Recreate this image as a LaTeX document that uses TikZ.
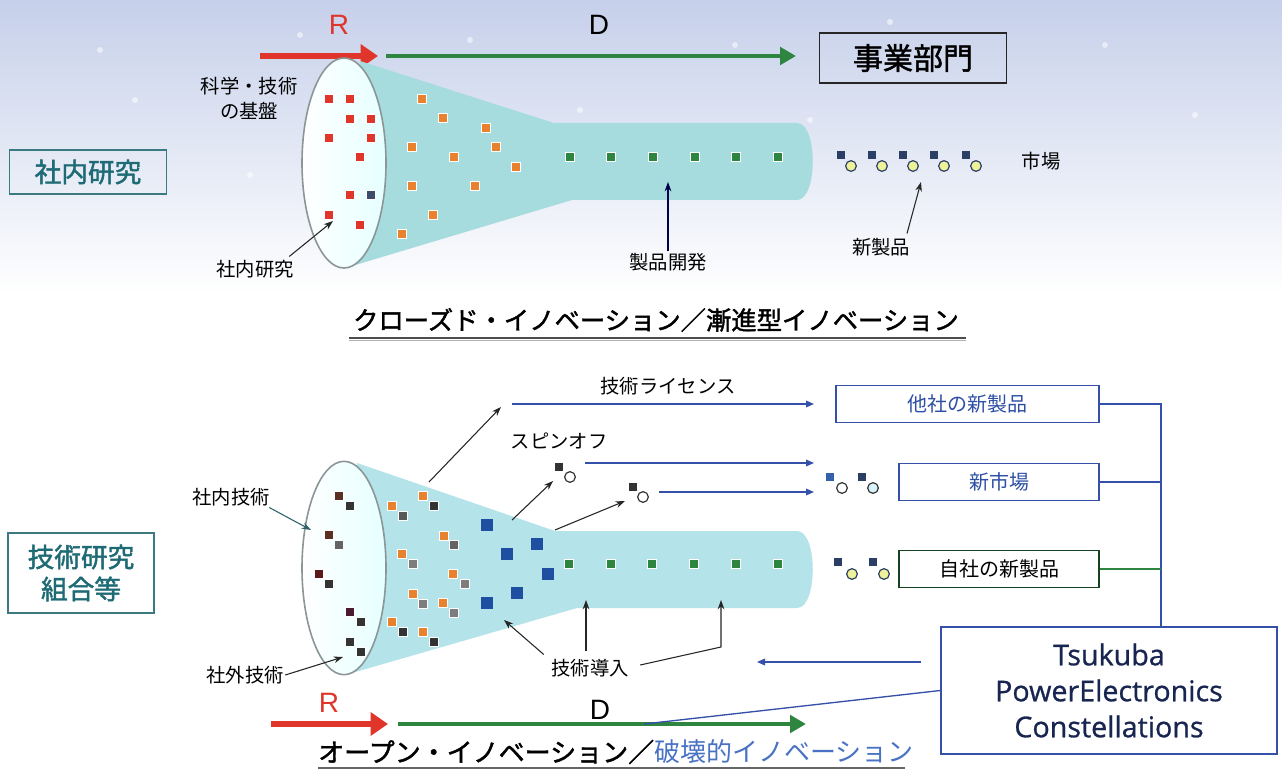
\documentclass[tikz,border=0pt]{standalone}
\usepackage{fontspec}
\setmainfont{Noto Sans CJK JP}
\newfontfamily\jpsemi[FakeBold=1.6]{Noto Sans CJK JP}
\newfontfamily\tskfont[FakeBold=0.8]{Open Sans}
\newfontfamily\rdfont{Liberation Sans}
\usetikzlibrary{arrows.meta,shapes.geometric,calc}
\definecolor{skytop}{HTML}{C6D0EA}
\definecolor{tealtxt}{HTML}{1E6B75}
\definecolor{tealbd}{HTML}{3A7A80}
\definecolor{conec}{HTML}{A6DCDE}
\definecolor{conec2}{HTML}{B4E3E9}
\definecolor{ellbd}{HTML}{8C9696}
\definecolor{redc}{HTML}{E0352B}
\definecolor{greenc}{HTML}{2E8540}
\definecolor{orangec}{HTML}{E8822E}
\definecolor{navyc}{HTML}{2B3F66}
\definecolor{yellowc}{HTML}{EEF39A}
\definecolor{bluec}{HTML}{3550A8}
\definecolor{bluetxt}{HTML}{2D4FA5}
\definecolor{bluetitle}{HTML}{4A72C4}
\definecolor{blueq}{HTML}{1F4FA0}
\definecolor{tsknavy}{HTML}{172550}
\definecolor{grayq}{HTML}{7D7D7D}
\definecolor{darkq}{HTML}{333333}
\definecolor{brownq}{HTML}{5A3020}
\definecolor{dredq}{HTML}{5A1A1A}
\definecolor{purpq}{HTML}{4A1A30}
\begin{document}
\begin{tikzpicture}[x=0.75pt,y=-0.75pt,
  lbl/.style={font=\fontsize{14.5}{18.75}\selectfont, inner sep=1pt, align=center},
  sq/.style={rectangle, inner sep=0pt, minimum size=6.6pt, draw=white, line width=0.4pt},
  bigsq/.style={rectangle, inner sep=0pt, minimum size=8.8pt},
  msq/.style={rectangle, inner sep=0pt, minimum size=5.6pt, fill=navyc},
  mci/.style={circle, inner sep=0pt, minimum size=8pt, draw=navyc, line width=0.9pt},
  arr/.style={-{Stealth[length=7pt,width=5pt]}, line width=0.8pt, draw=black!85},
  barr/.style={-{Triangle[length=6pt,width=5pt]}, line width=0.9pt, draw=bluec},
  redarr/.style={-{Triangle[length=13pt,width=17pt]}, line width=4.5pt, draw=redc},
  grnarr/.style={-{Triangle[length=12pt,width=13pt]}, line width=3.6pt, draw=greenc},
  lbox/.style={draw=tealbd, line width=1.3pt, text=tealtxt, font=\jpsemi\fontsize{20}{24}\selectfont, align=center},
  rbox/.style={draw=bluec, line width=1.2pt, text=bluetxt, font=\fontsize{15}{18}\selectfont, minimum height=28pt},
  ttl/.style={font=\jpsemi\fontsize{19}{22}\selectfont, inner sep=0pt},
  rd/.style={font=\rdfont\fontsize{21}{24}\selectfont, inner sep=0pt}
]
\useasboundingbox (0,0) rectangle (1282,770);
% ---------- background
\fill[white] (0,0) rectangle (1282,770);
\shade[top color=skytop, bottom color=white] (0,0) rectangle (1282,295);
\foreach \p in {(100,50),(135,100),(300,35),(470,40),(735,45),(890,22),(1105,45),(1195,115),(810,120),(250,175),(980,330),(580,110)}
  \fill[white, opacity=0.55] \p circle (3);

% ================= TOP SECTION =================
\node[rd, text=redc] (R1) at (339,25) {R};
\node[rd, text=black] (D1) at (599,25) {D};
\coordinate (ra1) at (260,56); \coordinate (rb1) at (378,56);
\draw[redarr] (ra1) -- (rb1);
\coordinate (ga1) at (386,56); \coordinate (gb1) at (796,56);
\draw[grnarr] (ga1) -- (gb1);
\node[draw=black!85, line width=1.2pt, minimum width=140pt, minimum height=37.5pt,
  font=\jpsemi\fontsize{22.5}{26}\selectfont] (jigyo) at (913,58) {事業部門};

\node[lbox, minimum width=117.75pt, minimum height=33pt] (shanai) at (88,172) {社内研究};

% cone
\fill[conec] (360,61) -- (554,123) -- (797,123) .. controls (818,123) and (818,200) .. (797,200)
  -- (572,200) -- (352,266) -- cycle;
\node[ellipse, draw=ellbd, line width=1.2pt, left color=white, right color=cyan!10,
  minimum width=63pt, minimum height=157.5pt] (ell1) at (344,163) {};

\foreach \x/\y in {329/99,350/99,350/119,371/119,329/138,371/138,360/157,350/195,329/215,360/225}
  \node[sq, fill=redc] at (\x,\y) {};
\node[sq, fill=navyc!80!gray] at (371,195) {};
\foreach \x/\y in {422/99,443/118,486/128,412/147,454/157,496/147,516/167,412/186,475/186,433/215,402/234}
  \node[sq, fill=orangec] at (\x,\y) {};
\foreach \x in {570,611,653,695,736,778}
  \node[sq, fill=greenc] at (\x,157) {};

% market
\foreach \x in {841,872,903,934,966}{
  \node[msq] at (\x,155) {};
  \node[mci, fill=yellowc] at (\x+10,166) {};
}
\node[lbl] (ichiba) at (1041,161) {市場};

\node[lbl] (kagaku) at (249,98) {科学・技術\\の基盤};
\node[lbl] (lshanai) at (255,269) {社内研究};
\coordinate (tshanai) at (333,221);
\draw[arr] (lshanai.north east) ++(-6,-2) -- (tshanai);
\node[lbl] (seihin) at (668,262) {製品開発};
\coordinate (tseihin) at (668,182);
\draw[arr, draw=black!70!blue] (seihin.north) -- (tseihin);
\node[lbl] (shinseihin) at (881,247) {新製品};
\coordinate (tshin) at (921,182);
\draw[arr] ($(shinseihin.north)+(26,-3)$) -- (tshin);

\node[ttl] (title1) at (656,320) {クローズド・イノベーション／漸進型イノベーション};
\draw[line width=1.6pt, black!70] (349,338) -- (966,338);
\draw[line width=0.5pt, black!30] (349,340.5) -- (966,340.5);

% ================= BOTTOM SECTION =================
\node[lbox, minimum width=109.5pt, minimum height=60pt] (kumiai) at (81,573) {技術研究\\組合等};

\fill[conec2] (357,463) -- (555,531) -- (797,531) .. controls (818,531) and (818,608) .. (797,608)
  -- (577,608) -- (352,673) -- cycle;
\node[ellipse, draw=ellbd, line width=1.2pt, left color=white, right color=cyan!10,
  minimum width=63pt, minimum height=160pt] (ell2) at (344,568) {};

% pairs in ellipse
\foreach \x/\y/\c in {339/496/brownq,329/535/brownq,319/574/dredq,350/612/purpq,350/642/darkq}
  \node[sq, fill=\c] at (\x,\y) {};
\foreach \x/\y/\c in {350/506/darkq,339/545/grayq!80!black,329/584/darkq,361/622/darkq,361/652/darkq}
  \node[sq, fill=\c] at (\x,\y) {};
% pairs in cone
\foreach \x/\y in {423/496,392/506,444/536,402/554,453/574,413/594,443/603,392/622,423/632}
  \node[sq, fill=orangec] at (\x,\y) {};
\foreach \x/\y/\c in {434/506/darkq,403/516/grayq!70!black,454/545/grayq!80!black,413/564/grayq,465/584/grayq,423/604/grayq,454/613/grayq,403/632/darkq,434/642/darkq}
  \node[sq, fill=\c] at (\x,\y) {};
\foreach \x/\y in {487/525,507/554,537/544,548/574,517/593,487/603}
  \node[bigsq, fill=blueq] at (\x,\y) {};
\foreach \x in {569,611,652,694,736,778}
  \node[sq, fill=greenc] at (\x,564) {};

% labels with arrows
\node[lbl] (naigi) at (231,497) {社内技術};
\coordinate (tnaigi) at (311,530);
\draw[arr, draw=tealbd!80!black] ($(naigi.south east)+(-2,0)$) -- (tnaigi);
\node[lbl] (gaigi) at (245,675) {社外技術};
\coordinate (tgaigi) at (343,657);
\draw[arr] (gaigi.east) -- (tgaigi);

\coordinate (lic0) at (429,482); \coordinate (lic1) at (501,407);
\draw[arr] (lic0) -- (lic1);
\node[lbl] (license) at (668,386) {技術ライセンス};
\coordinate (licA) at (512,404); \coordinate (licB) at (814,404);
\draw[barr] (licA) -- (licB);

\node[lbl] (spin) at (559,441) {スピンオフ};
\node[msq, fill=darkq] (sp1s) at (559,467) {};
\node[mci, draw=darkq, fill=white] (sp1c) at (570,477) {};
\node[msq, fill=darkq] (sp2s) at (633,487) {};
\node[mci, draw=darkq, fill=white] (sp2c) at (643,497) {};
\coordinate (sp0) at (512,520);
\draw[arr] (sp0) -- ($(sp1s)+(-6,14)$);
\coordinate (sp3) at (555,530);
\draw[arr] (sp3) -- ($(sp2s)+(-8,14)$);
\coordinate (spA) at (585,463); \coordinate (spB) at (814,463);
\draw[barr] (spA) -- (spB);
\coordinate (spC) at (659,492); \coordinate (spD) at (814,492);
\draw[barr] (spC) -- (spD);

% new market items
\node[msq, fill=blueq!90!white] at (830,477) {};
\node[mci, draw=darkq, fill=white] at (842,488) {};
\node[msq] at (862,477) {};
\node[mci, draw=darkq, fill=cyan!15] at (873,488) {};
% own product items
\node[msq] at (838,562) {};
\node[mci, fill=yellowc] at (852,574) {};
\node[msq] at (873,562) {};
\node[mci, fill=yellowc] at (884,574) {};

\node[lbl] (donyu) at (590,668) {技術導入};
\coordinate (d1) at (504,620);
\draw[arr] ($(donyu.north west)+(-6,-3)$) -- (d1);
\coordinate (d2) at (586,600);
\draw[arr] ($(donyu.north)+(-4,-6)$) -- (d2);
\coordinate (d3) at (721,600);
\draw[arr] ($(donyu.east)+(10,-3)$) -- (721,647) -- (d3);

% right boxes
\node[rbox, minimum width=197.25pt] (tasha) at (967.5,404) {他社の新製品};
\node[rbox, minimum width=150pt] (shinichiba) at (999,482) {新市場};
\node[rbox, draw=greenc!50!black, text=black, minimum width=150pt] (jisha) at (999,569) {自社の新製品};
\node[draw=bluec, line width=1.2pt, minimum width=252pt, minimum height=95.25pt, align=center,
  text=tsknavy, font=\tskfont\fontsize{21.5}{27}\selectfont] (tsk) at (1109,690.5)
  {Tsukuba\\PowerElectronics\\Constellations};
\coordinate (bus) at (1161,404);
\draw[bluec, line width=1.2pt] (tasha.east) -- (bus) -- (bus |- tsk.north);
\draw[bluec, line width=1.2pt] (shinichiba.east) -- (shinichiba.east -| bus);
\draw[greenc, line width=1.2pt] (jisha.east) -- (jisha.east -| bus);
\coordinate (fb0) at (921,662); \coordinate (fb1) at (757,662);
\draw[barr] (fb0) -- (fb1);

% bottom R & D
\node[rd, text=redc] (R2) at (329,703) {R};
\node[rd, text=black] (D2) at (600,710) {D};
\coordinate (ra2) at (271,724); \coordinate (rb2) at (388,724);
\draw[redarr] (ra2) -- (rb2);
\coordinate (ga2) at (398,724); \coordinate (gb2) at (806,724);
\draw[grnarr, line width=3.2pt] (ga2) -- (gb2);
\coordinate (gl) at (644,724);
\draw[bluec, line width=1pt] (gl) -- (tsk.west);

\node[ttl, anchor=west, font=\jpsemi\fontsize{19.5}{22}\selectfont] (title2) at (318,752) {オープン・イノベーション／{\fontspec{Noto Sans CJK JP}\color{bluetitle}破壊的イノベーション}};
\draw[line width=1.2pt, black!60] (318,768) -- (905,768);
\end{tikzpicture}
\end{document}
